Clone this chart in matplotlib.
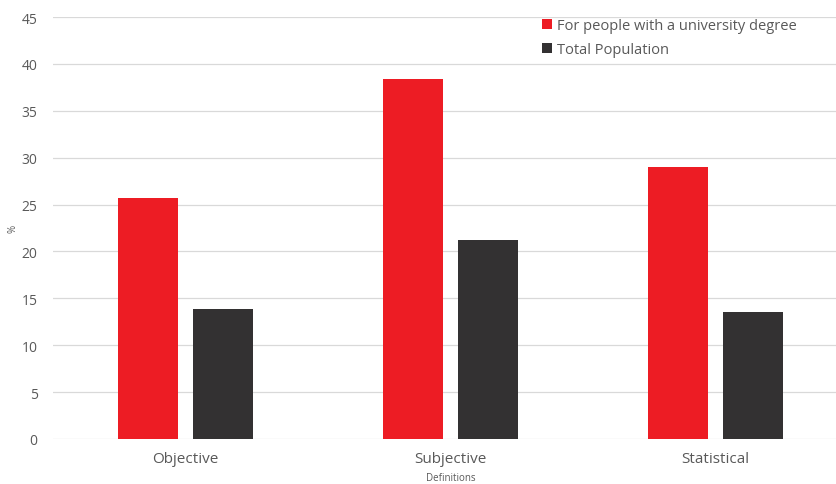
import numpy as np
import matplotlib
matplotlib.use('Agg')
import matplotlib.pyplot as plt

plt.rcParams['font.family'] = ['Open Sans', 'DejaVu Sans']

# Data
categories = ['Objective', 'Subjective', 'Statistical']
university = [25.7, 38.4, 29.0]
total = [13.9, 21.2, 13.5]
labels = ['For people with a university degree', 'Total Population']

red = '#ED1C24'
dark = '#333132'
grey = '#595959'

fig = plt.figure(figsize=(8.37, 4.85), dpi=100)
ax = fig.add_axes([53 / 837, 1 - 440 / 485, 795 / 837, 422 / 485])

x = np.arange(len(categories))
w = 0.226
off = 0.1415
ax.bar(x - off, university, w, color=red, label=labels[0], zorder=3)
ax.bar(x + off, total, w, color=dark, label=labels[1], zorder=3)

ax.set_xlim(-0.5, 2.5)
ax.set_ylim(0, 45)
ax.set_yticks(np.arange(0, 46, 5))
ax.set_xticks(x)
ax.set_xticklabels(categories)
ax.yaxis.grid(True, color='#d9d9d9', linewidth=0.9, zorder=0)
for s in ax.spines.values():
    s.set_visible(False)
ax.tick_params(axis='both', length=0, colors=grey)
ax.tick_params(axis='y', labelsize=10, pad=11)
ax.tick_params(axis='x', labelsize=11, pad=9)

ax.set_ylabel('%', fontsize=7, color=grey)
ax.yaxis.set_label_coords(-34 / 795, 0.5)
ax.set_xlabel('Definitions', fontsize=7, color=grey)
ax.xaxis.set_label_coords(0.5, -33 / 422)

leg = ax.legend(loc='upper left', bbox_to_anchor=(542 / 837, 1 - 19 / 485),
                bbox_transform=fig.transFigure, frameon=False, fontsize=10.5,
                handlelength=0.7, handleheight=0.7, handletextpad=0.3,
                labelspacing=0.65, borderaxespad=0, borderpad=0)
for t in leg.get_texts():
    t.set_color(grey)

fig.savefig('out.png', dpi=100)
